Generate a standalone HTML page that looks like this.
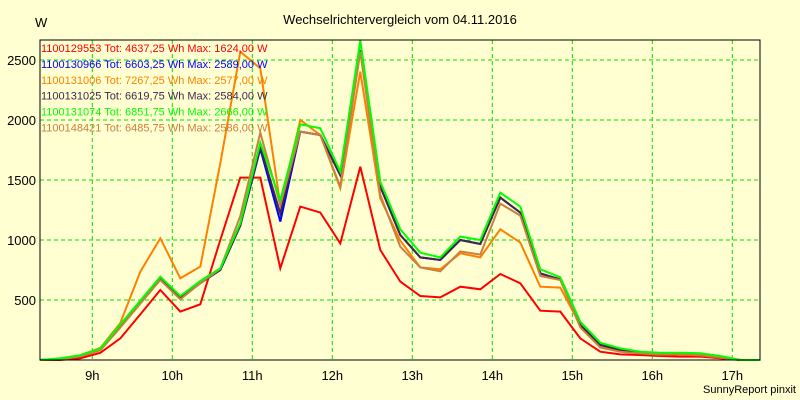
<!DOCTYPE html>
<html><head><meta charset="utf-8"><style>
body{margin:0;background:#FFFFD2;}
svg{display:block;font-family:"Liberation Sans",sans-serif;}
</style></head><body>
<svg id="chart" width="800" height="400" viewBox="0 0 800 400">
<rect x="0" y="0" width="800" height="400" fill="#FFFFD2"/>
<text x="400" y="24" text-anchor="middle" font-size="13" fill="#000">Wechselrichtervergleich vom 04.11.2016</text>
<text x="35" y="27" font-size="13" fill="#000">W</text>
<g id="grid"></g><g id="series"></g><g id="legend"></g>
<rect x="40" y="40" width="720" height="320" fill="none" stroke="#000" stroke-width="1"/>
<text x="796" y="393" text-anchor="end" font-size="11" fill="#000">SunnyReport pinxit</text>
</svg>
<script>
const yTicks=[500,1000,1500,2000,2500];
const xTicks=[9,10,11,12,13,14,15,16,17];
const seriesNames=["1100129553 Tot: 4637,25 Wh Max: 1624,00 W","1100130966 Tot: 6603,25 Wh Max: 2589,00 W","1100131006 Tot: 7267,25 Wh Max: 2577,00 W","1100131025 Tot: 6619,75 Wh Max: 2584,00 W","1100131074 Tot: 6851,75 Wh Max: 2666,00 W","1100148421 Tot: 6485,75 Wh Max: 2586,00 W"];
const seriesColors=["#FF0000","#0000FF","#FF8000","#40284A","#00FF00","#C88040"];
const startHour=8+21/60;
const stepHour=0.25;
const red=[0,0,15,60,180,380,583,403,464,1000,1520,1520,764,1278,1228,972,1611,917,653,533,522,611,589,717,639,411,403,180,69,47,42,33,28,28,14,0,0];
const blue=[0,8,30,85,285,480,680,514,640,750,1120,1760,1153,1903,1875,1540,2583,1444,1042,855,833,1000,967,1353,1228,722,672,292,125,83,56,50,50,45,25,0,0];
const orange=[0,10,40,100,308,736,1014,681,778,1639,2569,2431,1292,2000,1875,1431,2403,1347,994,772,756,889,855,1089,978,611,603,292,104,83,60,50,45,40,20,0,0];
const purple=[0,8,30,85,285,480,680,514,640,750,1120,1778,1222,1903,1875,1540,2583,1444,1042,855,833,1000,967,1353,1228,722,672,292,125,83,56,50,50,45,25,0,0];
const green=[0,14,40,95,297,494,694,533,658,764,1139,1811,1333,1964,1931,1569,2661,1486,1089,894,855,1028,1000,1394,1278,756,689,319,144,97,69,61,61,56,33,0,0];
const brown=[0,5,30,80,270,470,667,506,640,760,1200,1894,1292,1903,1875,1444,2569,1375,944,772,739,905,878,1303,1203,700,667,272,104,69,55,45,50,45,25,0,0];
const allSeries=[red,blue,orange,purple,brown,green];
const drawColors=["#FF0000","#0000FF","#FF8000","#40284A","#C88040","#00FF00"];
const NS="http://www.w3.org/2000/svg";
function xs(h){return 92.3+(h-9)*80;}
function ys(v){return 360-v*0.12;}
const grid=document.getElementById('grid');
yTicks.forEach(v=>{
 const l=document.createElementNS(NS,'line');
 l.setAttribute('x1',40);l.setAttribute('x2',760);l.setAttribute('y1',ys(v));l.setAttribute('y2',ys(v));
 l.setAttribute('stroke','#00E000');l.setAttribute('stroke-dasharray','4,3');
 
 
 grid.appendChild(l);
 const t=document.createElementNS(NS,'text');
 t.setAttribute('x',36);t.setAttribute('y',ys(v)+5);t.setAttribute('text-anchor','end');t.setAttribute('font-size','13');
 t.textContent=v;
 
 
 grid.appendChild(t);
});
xTicks.forEach(h=>{
 const l=document.createElementNS(NS,'line');
 l.setAttribute('x1',xs(h));l.setAttribute('x2',xs(h));l.setAttribute('y1',40);l.setAttribute('y2',360);
 l.setAttribute('stroke','#00E000');l.setAttribute('stroke-dasharray','4,3');
 
 
 grid.appendChild(l);
 const t=document.createElementNS(NS,'text');
 t.setAttribute('x',xs(h));t.setAttribute('y',380);t.setAttribute('text-anchor','middle');t.setAttribute('font-size','13');
 t.textContent=h+'h';
 
 
 grid.appendChild(t);
});
const sg=document.getElementById('series');
allSeries.forEach((arr,k)=>{
 const p=document.createElementNS(NS,'polyline');
 p.setAttribute('points',arr.map((v,i)=>xs(startHour+i*stepHour).toFixed(1)+','+ys(v).toFixed(1)).join(' '));
 p.setAttribute('fill','none');p.setAttribute('stroke',drawColors[k]);p.setAttribute('stroke-width','2');
 
 
 sg.appendChild(p);
});
const lg=document.getElementById('legend');
seriesNames.forEach((n,i)=>{
 const t=document.createElementNS(NS,'text');
 t.setAttribute('x',41);t.setAttribute('y',52+i*15.9);t.setAttribute('font-size','11');t.setAttribute('fill',seriesColors[i]);
 t.textContent=n;
 
 
 lg.appendChild(t);
});
</script>
</body></html>
